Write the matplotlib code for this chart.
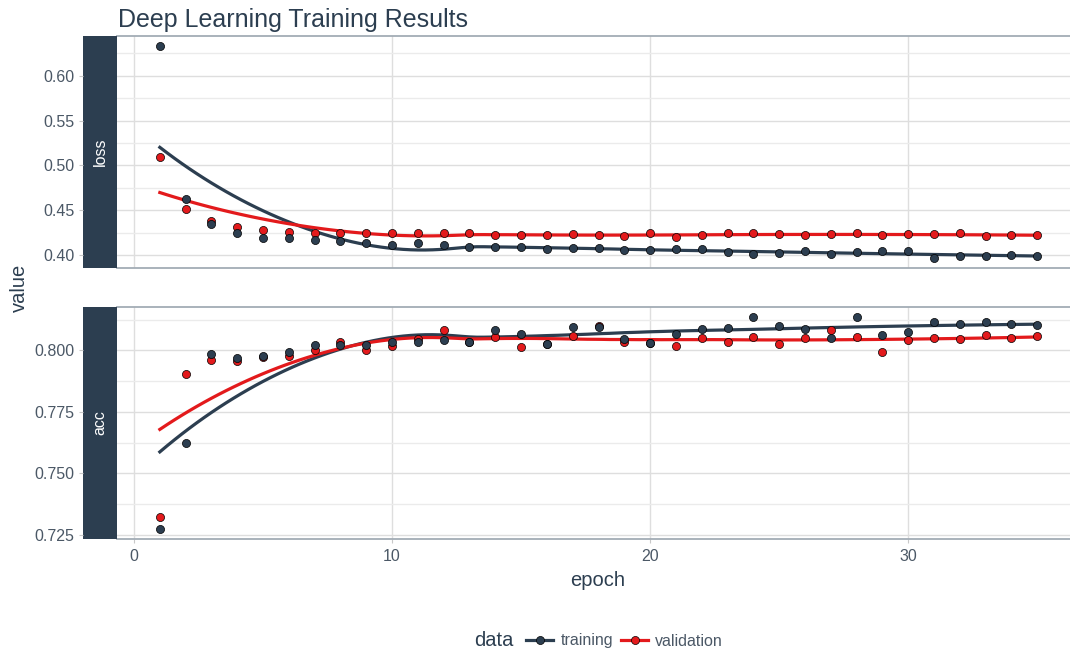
import matplotlib
matplotlib.use("Agg")
import matplotlib.pyplot as plt
from matplotlib.lines import Line2D
import numpy as np

plt.rcParams["font.family"] = ["Liberation Sans", "DejaVu Sans"]

# per-epoch training history
epochs = np.arange(1, 36)

loss_training = [0.633, 0.462, 0.434, 0.425, 0.419, 0.419, 0.417, 0.415, 0.413,
                 0.411, 0.413, 0.411, 0.409, 0.409, 0.409, 0.407, 0.408, 0.408,
                 0.405, 0.406, 0.407, 0.407, 0.403, 0.401, 0.402, 0.404, 0.401,
                 0.403, 0.404, 0.404, 0.397, 0.399, 0.399, 0.400, 0.399]
loss_validation = [0.509, 0.451, 0.438, 0.431, 0.428, 0.426, 0.425, 0.425, 0.425,
                   0.424, 0.424, 0.424, 0.424, 0.422, 0.422, 0.422, 0.423, 0.422,
                   0.421, 0.424, 0.420, 0.422, 0.424, 0.424, 0.423, 0.422, 0.423,
                   0.424, 0.422, 0.423, 0.423, 0.424, 0.421, 0.422, 0.422]
acc_training = [0.7276, 0.7622, 0.7987, 0.7967, 0.7978, 0.7992, 0.8020, 0.8020,
                0.8022, 0.8033, 0.8033, 0.8044, 0.8035, 0.8084, 0.8066, 0.8026,
                0.8095, 0.8093, 0.8048, 0.8029, 0.8066, 0.8088, 0.8091, 0.8135,
                0.8097, 0.8088, 0.8050, 0.8135, 0.8064, 0.8076, 0.8117, 0.8106,
                0.8115, 0.8105, 0.8102]
acc_validation = [0.7323, 0.7902, 0.7960, 0.7955, 0.7973, 0.7977, 0.8003, 0.8034,
                  0.8001, 0.8019, 0.8048, 0.8082, 0.8035, 0.8056, 0.8013, 0.8026,
                  0.8057, 0.8098, 0.8033, 0.8030, 0.8019, 0.8050, 0.8034, 0.8056,
                  0.8026, 0.8050, 0.8082, 0.8056, 0.7992, 0.8040, 0.8050, 0.8045,
                  0.8062, 0.8050, 0.8057]

DARK = "#2c3e50"
RED = "#e31a1c"
TEXT = "#4b5866"
GRID = "#dedede"
GRID_MINOR = "#ebebeb"


def loess(x, y, xs, span=0.75, degree=2):
    """Local quadratic regression with tricube weights (like R's loess)."""
    x = np.asarray(x, float)
    y = np.asarray(y, float)
    q = int(np.floor(len(x) * span))
    out = []
    for x0 in xs:
        d = np.abs(x - x0)
        h = np.sort(d)[q - 1]
        w = np.clip(1 - (d / h) ** 3, 0, None) ** 3
        X = np.vander(x - x0, degree + 1)
        sw = np.sqrt(w)
        beta = np.linalg.lstsq(X * sw[:, None], y * sw, rcond=None)[0]
        out.append(beta[-1])
    return np.array(out)


W, H = 1070, 652
fig = plt.figure(figsize=(W / 100, H / 100), dpi=100)


def px_rect(left, top, right, bottom):
    return [left / W, 1 - bottom / H, (right - left) / W, (bottom - top) / H]


panels = [
    ("loss", loss_training, loss_validation, 36, 268, (0.3854, 0.6445),
     [0.40, 0.45, 0.50, 0.55, 0.60], "{:.2f}",
     [0.425, 0.475, 0.525, 0.575, 0.625]),
    ("acc", acc_training, acc_validation, 307, 539, (0.7234, 0.8176),
     [0.725, 0.750, 0.775, 0.800], "{:.3f}",
     [0.7375, 0.7625, 0.7875, 0.8125]),
]

xs = np.linspace(1, 35, 120)
for i, (name, tr, va, top, bottom, ylim, yticks, fmt, yminor) in enumerate(panels):
    ax = fig.add_axes(px_rect(117, top, 1080, bottom))
    strip = fig.add_axes(px_rect(83, top, 117, bottom), sharey=ax)

    ax.set_xlim(-0.66, 36.66)
    ax.set_ylim(*ylim)
    ax.set_xticks([0, 10, 20, 30])
    ax.set_yticks(yticks)
    ax.set_yticks(yminor, minor=True)
    ax.grid(True, which="major", color=GRID, lw=1.0)
    ax.grid(True, which="minor", axis="y", color=GRID_MINOR, lw=1.0)
    ax.set_axisbelow(True)
    for side in ("left", "right"):
        ax.spines[side].set_visible(False)
    for side in ("top", "bottom"):
        ax.spines[side].set_color("#a3acb5")
        ax.spines[side].set_linewidth(1.3)
    ax.tick_params(axis="y", which="both", left=False, labelleft=False)
    ax.tick_params(axis="x", which="both", length=3, color="#c8c8c8",
                   labelcolor=TEXT, labelsize=11.5, pad=4)
    if i == 0:
        ax.tick_params(axis="x", labelbottom=False, length=0)

    ax.plot(xs, loess(epochs, tr, xs), color=DARK, lw=2.3, zorder=2)
    ax.plot(xs, loess(epochs, va, xs), color=RED, lw=2.3, zorder=2)
    ax.scatter(epochs, va, s=34, facecolor=RED, edgecolor="black",
               linewidth=0.5, zorder=3)
    ax.scatter(epochs, tr, s=34, facecolor=DARK, edgecolor="black",
               linewidth=0.5, zorder=4)

    # facet strip on the left, carrying the y tick labels
    strip.set_facecolor(DARK)
    strip.set_xticks([])
    for sp in strip.spines.values():
        sp.set_visible(False)
    strip.set_yticks(yticks)
    strip.set_yticklabels([fmt.format(v) for v in yticks])
    strip.tick_params(axis="y", which="major", length=3, color="#c8c8c8",
                      labelcolor=TEXT, labelsize=11.5, pad=3)
    strip.tick_params(axis="y", which="minor", length=0)
    strip.text(0.5, 0.5, name, rotation=90, color="white", fontsize=11.5,
               ha="center", va="center", transform=strip.transAxes)

fig.text(118 / W, 1 - 27 / H, "Deep Learning Training Results", fontsize=18,
         color=DARK, ha="left", va="baseline")
fig.text(19 / W, 1 - 288 / H, "value", rotation=90, fontsize=14.5, color=DARK,
         ha="center", va="center")
fig.text(598 / W, 1 - 580 / H, "epoch", fontsize=14.5, color=DARK,
         ha="center", va="center")

# legend along the bottom
fig.text(494 / W, 1 - 641 / H, "data", fontsize=14.5, color=DARK,
         ha="center", va="center")
handles = [
    Line2D([], [], color=DARK, lw=2.3, marker="o", markersize=5.8,
           markerfacecolor=DARK, markeredgecolor="black", markeredgewidth=0.5),
    Line2D([], [], color=RED, lw=2.3, marker="o", markersize=5.8,
           markerfacecolor=RED, markeredgecolor="black", markeredgewidth=0.5),
]
leg = fig.legend(handles, ["training", "validation"], ncol=2,
                 loc="center left", bbox_to_anchor=(518 / W, 1 - 641 / H),
                 frameon=False, fontsize=11.5, handlelength=1.7,
                 handletextpad=0.45, columnspacing=0.5, borderpad=0)
for t in leg.get_texts():
    t.set_color(TEXT)

fig.savefig("out.png", dpi=100)
